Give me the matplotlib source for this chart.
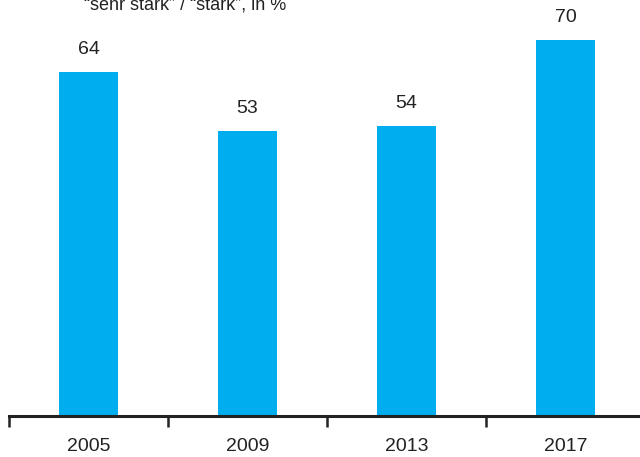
import matplotlib.pyplot as plt

years = ["2005", "2009", "2013", "2017"]
shares = [64, 53, 54, 70]

plt.rcParams["font.family"] = ["Liberation Sans", "DejaVu Sans"]

fig = plt.figure(figsize=(6.4, 4.57), dpi=100)
# axes runs slightly past the right edge so the last tick falls outside
ax = fig.add_axes([9 / 640, 41 / 457, 636 / 640, 416 / 457])

x = range(len(years))
bars = ax.bar(x, shares, width=0.375, color="#00aeef")
for b, v in zip(bars, shares):
    ax.text(b.get_x() + b.get_width() / 2, v + 2.6, str(v), ha="center",
            va="bottom", fontsize=14, color="#222222")

ax.set_xlim(-0.5, 3.5)
ax.set_ylim(0, 77.4)
ax.set_xticks([i - 0.5 for i in range(5)])
ax.set_xticklabels([""] * 5)
ax.set_xticks(list(x), minor=True)
ax.set_xticklabels(years, minor=True, fontsize=14, color="#222222")
ax.tick_params(axis="x", which="major", direction="out", length=8, width=1.8, color="#222222")
ax.tick_params(axis="x", which="minor", length=0, pad=16)
ax.set_yticks([])
for s in ["top", "right", "left"]:
    ax.spines[s].set_visible(False)
ax.spines["bottom"].set_linewidth(2.2)
ax.spines["bottom"].set_color("#222222")

fig.text(84 / 640, 1 - 9 / 457, "“sehr stark” / “stark”, in %", fontsize=13,
         color="#222222", va="baseline", ha="left")

fig.savefig("out.png", dpi=100)
